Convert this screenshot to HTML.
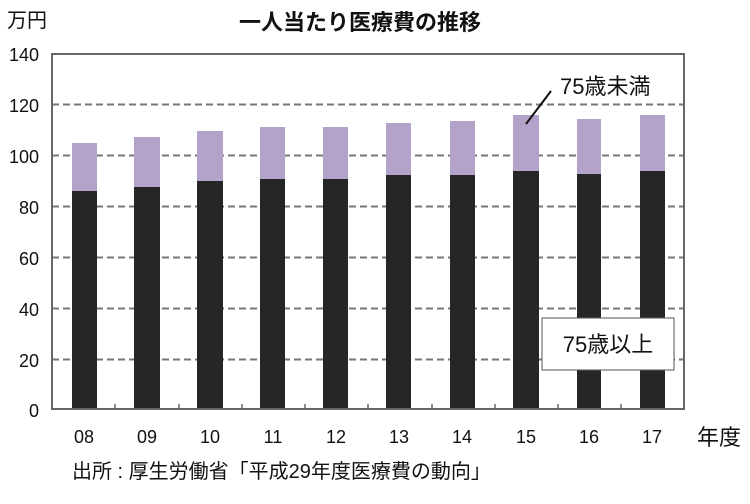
<!DOCTYPE html>
<html><head><meta charset="utf-8"><style>
html,body{margin:0;padding:0;background:#fff}
svg{display:block}
text{font-family:"Liberation Sans","Noto Sans CJK JP",sans-serif;fill:#111}
</style></head><body>
<svg width="750" height="504" viewBox="0 0 750 504">
<rect x="0" y="0" width="750" height="504" fill="#fff"/>
<text x="360" y="30" font-size="22" text-anchor="middle" font-weight="bold">一人当たり医療費の推移</text>
<text x="7" y="27" font-size="20">万円</text>
<g stroke="#777" stroke-width="2" stroke-dasharray="7,4">
<line x1="52" y1="104.5" x2="684" y2="104.5"/>
<line x1="52" y1="155.5" x2="684" y2="155.5"/>
<line x1="52" y1="206.5" x2="684" y2="206.5"/>
<line x1="52" y1="257.5" x2="684" y2="257.5"/>
<line x1="52" y1="308.5" x2="684" y2="308.5"/>
<line x1="52" y1="359.5" x2="684" y2="359.5"/>
</g>
<g font-size="18" text-anchor="end">
<text x="39" y="61">140</text><text x="39" y="112">120</text><text x="39" y="163">100</text>
<text x="39" y="214">80</text><text x="39" y="265">60</text><text x="39" y="316">40</text>
<text x="39" y="367">20</text><text x="39" y="417">0</text>
</g>
<g fill="#b3a2c9">
<rect x="72" y="143" width="25" height="266"/>
<rect x="134" y="137" width="26" height="272"/>
<rect x="197" y="131" width="26" height="278"/>
<rect x="260" y="127" width="25" height="282"/>
<rect x="323" y="127" width="25" height="282"/>
<rect x="386" y="123" width="25" height="286"/>
<rect x="450" y="121" width="25" height="288"/>
<rect x="513" y="115" width="26" height="294"/>
<rect x="577" y="119" width="24" height="290"/>
<rect x="640" y="115" width="25" height="294"/>
</g>
<g fill="#262626">
<rect x="72" y="191" width="25" height="218"/>
<rect x="134" y="187" width="26" height="222"/>
<rect x="197" y="181" width="26" height="228"/>
<rect x="260" y="179" width="25" height="230"/>
<rect x="323" y="179" width="25" height="230"/>
<rect x="386" y="175" width="25" height="234"/>
<rect x="450" y="175" width="25" height="234"/>
<rect x="513" y="171" width="26" height="238"/>
<rect x="577" y="174" width="24" height="235"/>
<rect x="640" y="171" width="25" height="238"/>
</g>
<rect x="52" y="54" width="632" height="355" fill="none" stroke="#666" stroke-width="2"/>
<g stroke="#666" stroke-width="1.5">
<line x1="115" y1="409" x2="115" y2="404"/><line x1="179" y1="409" x2="179" y2="404"/>
<line x1="242" y1="409" x2="242" y2="404"/><line x1="305" y1="409" x2="305" y2="404"/>
<line x1="368" y1="409" x2="368" y2="404"/><line x1="432" y1="409" x2="432" y2="404"/>
<line x1="495" y1="409" x2="495" y2="404"/><line x1="558" y1="409" x2="558" y2="404"/>
<line x1="621" y1="409" x2="621" y2="404"/>
</g>
<line x1="551" y1="91" x2="526" y2="124" stroke="#111" stroke-width="2"/>
<text x="560" y="94" font-size="22">75歳未満</text>
<rect x="542" y="318" width="132" height="52" fill="#fff" stroke="#555" stroke-width="1"/>
<text x="608" y="352" font-size="22" text-anchor="middle">75歳以上</text>
<g font-size="18" text-anchor="middle">
<text x="84" y="443">08</text><text x="147" y="443">09</text><text x="210" y="443">10</text>
<text x="273" y="443">11</text><text x="336" y="443">12</text><text x="399" y="443">13</text>
<text x="462" y="443">14</text><text x="526" y="443">15</text><text x="589" y="443">16</text>
<text x="652" y="443">17</text>
</g>
<text x="697" y="445" font-size="22">年度</text>
<text x="72" y="478" font-size="20">出所 : 厚生労働省「平成29年度医療費の動向」</text>
</svg>
</body></html>
